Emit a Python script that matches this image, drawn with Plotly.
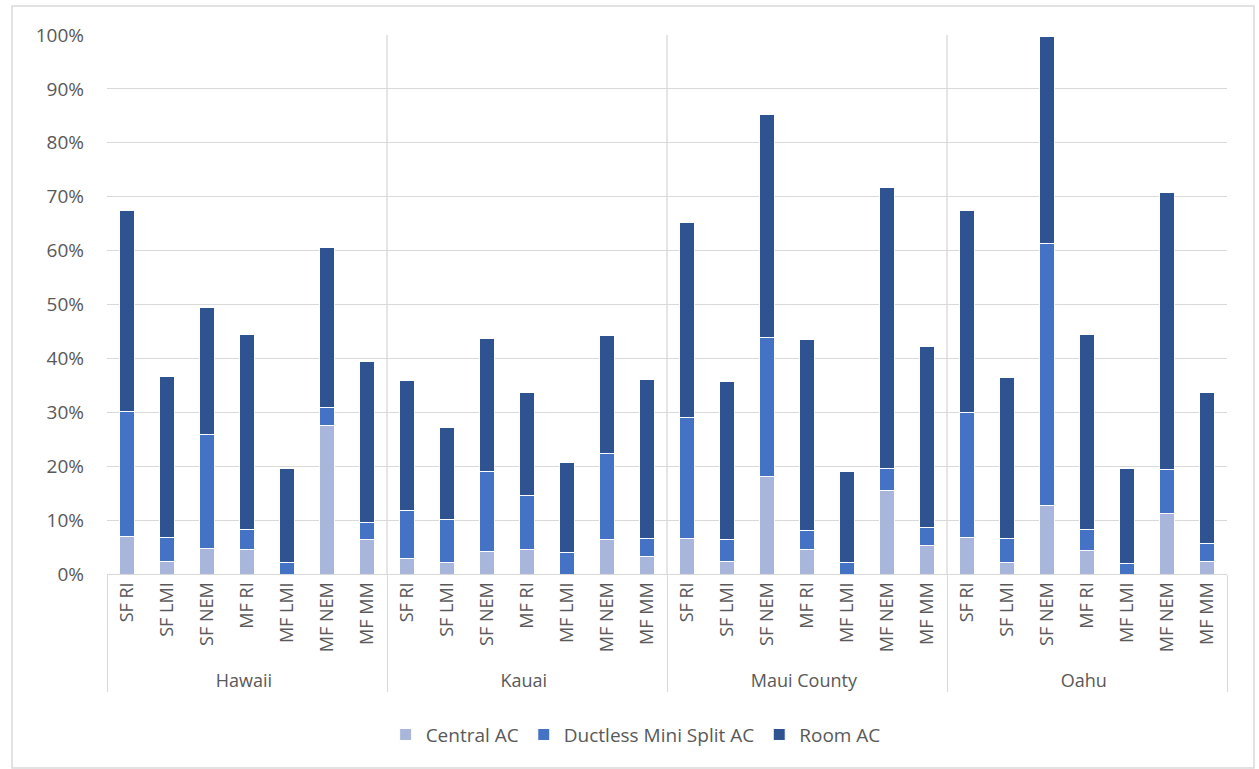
import plotly.graph_objects as go

# Share of homes by AC type, per county and customer segment (percent)
regions = ["Hawaii", "Kauai", "Maui County", "Oahu"]
segments = ["SF RI", "SF LMI", "SF NEM", "MF RI", "MF LMI", "MF NEM", "MF MM"]

central_ac = {
    "Hawaii":      [6.9, 2.4, 4.8, 4.5, 0.0, 27.5, 6.4],
    "Kauai":       [2.8, 2.1, 4.1, 4.6, 0.0, 6.4, 3.3],
    "Maui County": [6.6, 2.4, 18.1, 4.5, 0.0, 15.5, 5.2],
    "Oahu":        [6.7, 2.1, 12.7, 4.3, 0.0, 11.2, 2.4],
}
ductless_ac = {
    "Hawaii":      [23.2, 4.3, 21.0, 3.8, 2.1, 3.4, 3.1],
    "Kauai":       [9.0, 8.1, 14.9, 9.9, 4.0, 15.9, 3.3],
    "Maui County": [22.5, 4.0, 25.7, 3.6, 2.2, 4.1, 3.4],
    "Oahu":        [23.3, 4.4, 48.6, 3.9, 2.0, 8.1, 3.2],
}
room_ac = {
    "Hawaii":      [37.4, 30.0, 23.6, 36.2, 17.5, 29.6, 30.0],
    "Kauai":       [24.1, 17.0, 24.7, 19.1, 16.7, 22.0, 29.5],
    "Maui County": [36.1, 29.3, 41.4, 35.4, 16.9, 52.1, 33.7],
    "Oahu":        [37.4, 30.0, 38.4, 36.2, 17.5, 51.5, 28.1],
}

series = [
    ("Central AC", central_ac, "#A9B6DB"),
    ("Ductless Mini Split AC", ductless_ac, "#4472C4"),
    ("Room AC", room_ac, "#2F5290"),
]

x_outer = [r for r in regions for _ in segments]
x_inner = [s for _ in regions for s in segments]

FONT = "Open Sans"
TEXT = "#595959"
GRID = "#D9D9D9"

fig = go.Figure()
for name, data, color in series:
    fig.add_trace(go.Bar(
        name=name,
        x=[x_outer, x_inner],
        y=[v for r in regions for v in data[r]],
        marker=dict(color=color, line=dict(color="white", width=1)),
    ))

shapes = []
# region separators through the plotting area
for k in range(1, len(regions)):
    shapes.append(dict(type="line", xref="paper", yref="paper",
                       x0=k / len(regions), x1=k / len(regions), y0=0, y1=1,
                       line=dict(color=GRID, width=1.3), layer="below"))
# chart frame
shapes.append(dict(type="rect", xref="paper", yref="paper",
                   x0=-0.0848, x1=1.0241, y0=-0.36, y1=1.0538,
                   line=dict(color=GRID, width=1.5), layer="below"))

fig.update_layout(
    width=1259, height=769,
    margin=dict(l=107, r=32, t=35, b=195),
    barmode="stack",
    bargap=0.62,
    plot_bgcolor="white",
    paper_bgcolor="white",
    font=dict(family=FONT, color=TEXT, size=17),
    shapes=shapes,
    legend=dict(orientation="h", x=0.472, xanchor="center",
                y=-0.298, yanchor="middle",
                font=dict(family=FONT, size=19, color=TEXT),
                traceorder="normal"),
    xaxis=dict(
        type="multicategory",
        tickangle=-90,
        showline=True, linecolor=GRID, linewidth=1.3,
        showgrid=False,
        showdividers=True, dividercolor=GRID, dividerwidth=1.3,
        tickfont=dict(family=FONT, size=18, color=TEXT),
        ticks="",
    ),
    yaxis=dict(
        range=[0, 100],
        dtick=10,
        ticksuffix="%",
        showgrid=True, gridcolor=GRID, gridwidth=1.3,
        zeroline=False, showline=False,
        tickfont=dict(family=FONT, size=19, color=TEXT),
        ticklabelstandoff=22,
    ),
)

fig.write_html("out.html")
